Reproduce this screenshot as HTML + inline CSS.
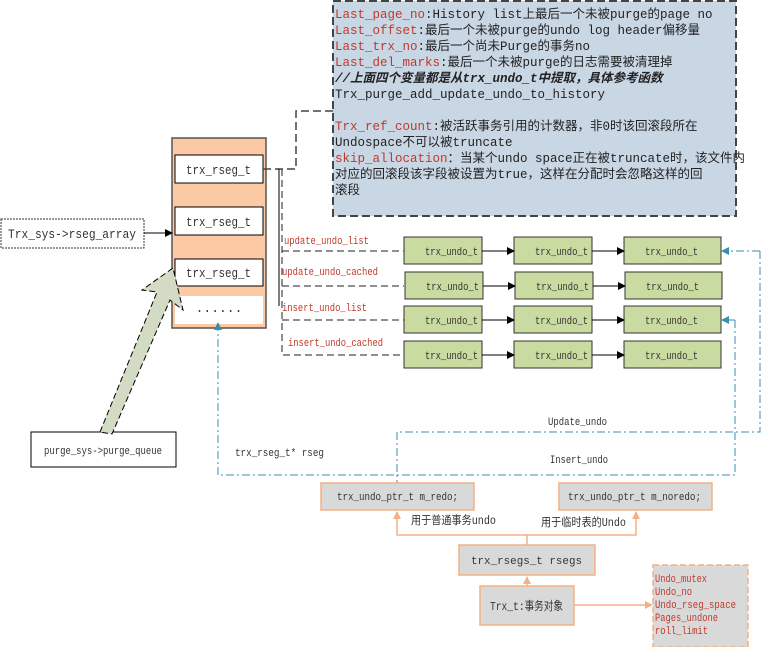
<!DOCTYPE html>
<html><head><meta charset="utf-8"><style>
body{margin:0;background:#fff;}
svg{display:block;font-family:"Liberation Serif","Noto Serif CJK SC","Noto Sans CJK SC",serif;}
.m{font-family:"Liberation Mono","Noto Sans CJK SC",monospace;}
</style></head><body>
<svg width="761" height="647" viewBox="0 0 761 647" xmlns="http://www.w3.org/2000/svg">
<defs>
<marker id="ab" markerWidth="8" markerHeight="8" refX="7" refY="4" orient="auto" markerUnits="userSpaceOnUse"><path d="M0,0 L8,4 L0,8z" fill="#000"/></marker>
<marker id="at" markerWidth="8" markerHeight="8" refX="7" refY="4" orient="auto" markerUnits="userSpaceOnUse"><path d="M0,0 L8,4 L0,8z" fill="#3a8fb0"/></marker>
<marker id="ao" markerWidth="8" markerHeight="8" refX="7" refY="4" orient="auto" markerUnits="userSpaceOnUse"><path d="M0,0 L8,4 L0,8z" fill="#f4b183"/></marker>
</defs>
<!-- top note box -->
<rect x="333" y="1" width="403" height="215" fill="#c9d6e4" stroke="#444" stroke-width="2" stroke-dasharray="8,4"/>
<g class="m" font-size="12.5" fill="#222">
<text x="335" y="18"><tspan fill="#c0392b">Last_page_no</tspan>:History list上最后一个未被purge的page no</text>
<text x="335" y="34"><tspan fill="#c0392b">Last_offset</tspan>:最后一个未被purge的undo log header偏移量</text>
<text x="335" y="50"><tspan fill="#c0392b">Last_trx_no</tspan>:最后一个尚未Purge的事务no</text>
<text x="335" y="66"><tspan fill="#c0392b">Last_del_marks</tspan>:最后一个未被purge的日志需要被清理掉</text>
<text x="335" y="82" font-style="italic" font-weight="bold">//上面四个变量都是从trx_undo_t中提取，具体参考函数</text>
<text x="335" y="98">Trx_purge_add_update_undo_to_history</text>
<text x="335" y="130"><tspan fill="#c0392b">Trx_ref_count</tspan>:被活跃事务引用的计数器，非0时该回滚段所在</text>
<text x="335" y="146">Undospace不可以被truncate</text>
<text x="335" y="162"><tspan fill="#c0392b">skip_allocation</tspan>：当某个undo space正在被truncate时，该文件内</text>
<text x="335" y="178">对应的回滚段该字段被设置为true，这样在分配时会忽略这样的回</text>
<text x="335" y="194">滚段</text>
</g>
<!-- rseg array -->
<rect x="172" y="138" width="94" height="190" fill="#fbc9a4" stroke="#555" stroke-width="1.5"/>
<rect x="175" y="155" width="88" height="28" fill="#fff" stroke="#000"/>
<rect x="175" y="207" width="88" height="28" fill="#fff" stroke="#000"/>
<rect x="175" y="259" width="88" height="27" fill="#fff" stroke="#000"/>
<rect x="175" y="296" width="88" height="28" fill="#fff"/>
<g class="m" font-size="13" fill="#333" lengthAdjust="spacingAndGlyphs">
<text x="186" y="174" textLength="65" lengthAdjust="spacingAndGlyphs">trx_rseg_t</text>
<text x="186" y="226" textLength="65" lengthAdjust="spacingAndGlyphs">trx_rseg_t</text>
<text x="186" y="277" textLength="65" lengthAdjust="spacingAndGlyphs">trx_rseg_t</text>
<text x="219" y="312" text-anchor="middle">......</text>
</g>
<!-- Trx_sys -->
<rect x="1" y="219" width="143" height="29" fill="#fff" stroke="#333" stroke-dasharray="2,1"/>
<text class="m" x="8" y="238" font-size="13" fill="#333" textLength="128" lengthAdjust="spacingAndGlyphs">Trx_sys-&gt;rseg_array</text>
<line x1="144" y1="233" x2="172" y2="233" stroke="#000" marker-end="url(#ab)"/>
<!-- purge -->
<rect x="31" y="432" width="145" height="35" fill="#fff" stroke="#000"/>
<text class="m" x="44" y="454" font-size="11" fill="#333" textLength="118" lengthAdjust="spacingAndGlyphs">purge_sys-&gt;purge_queue</text>
<path d="M100,432 L157,292 L142,290 L173,268 L183,310 L170,300 L112,434 Z" fill="#d4dbc4" stroke="#000" stroke-dasharray="6,3"/>
<!-- connectors from rseg -->
<path d="M263,169 H296 V111 H333" fill="none" stroke="#444" stroke-width="1.5" stroke-dasharray="8,4"/>
<line x1="279" y1="169" x2="279" y2="306" stroke="#000"/>
<g fill="none" stroke="#222" stroke-dasharray="7,4">
<path d="M282,169 V355 H404"/>
<line x1="282" y1="251" x2="404" y2="251"/><line x1="282" y1="286" x2="404" y2="286"/><line x1="282" y1="320" x2="404" y2="320"/>
</g>
<g class="m" font-size="11" fill="#c0392b">
<text x="284" y="244" textLength="85" lengthAdjust="spacingAndGlyphs">update_undo_list</text>
<text x="282" y="275" textLength="96" lengthAdjust="spacingAndGlyphs">update_undo_cached</text>
<text x="282" y="311" textLength="85" lengthAdjust="spacingAndGlyphs">insert_undo_list</text>
<text x="288" y="346" textLength="95" lengthAdjust="spacingAndGlyphs">insert_undo_cached</text>
</g>
<!-- undo rows -->
<g stroke="#333" fill="#c9dba0">
<rect x="404" y="237" width="78" height="27"/><rect x="514" y="237" width="78" height="27"/><rect x="624" y="237" width="97" height="27"/>
<rect x="405" y="272" width="78" height="27"/><rect x="515" y="272" width="78" height="27"/><rect x="625" y="272" width="97" height="27"/>
<rect x="404" y="306" width="78" height="27"/><rect x="514" y="306" width="78" height="27"/><rect x="624" y="306" width="97" height="27"/>
<rect x="404" y="341" width="78" height="27"/><rect x="514" y="341" width="78" height="27"/><rect x="624" y="341" width="97" height="27"/>
</g>
<g class="m" font-size="11" fill="#333">
<text x="425" y="255" textLength="53" lengthAdjust="spacingAndGlyphs">trx_undo_t</text><text x="535" y="255" textLength="53" lengthAdjust="spacingAndGlyphs">trx_undo_t</text><text x="645" y="255" textLength="53" lengthAdjust="spacingAndGlyphs">trx_undo_t</text>
<text x="426" y="290" textLength="53" lengthAdjust="spacingAndGlyphs">trx_undo_t</text><text x="536" y="290" textLength="53" lengthAdjust="spacingAndGlyphs">trx_undo_t</text><text x="646" y="290" textLength="53" lengthAdjust="spacingAndGlyphs">trx_undo_t</text>
<text x="425" y="324" textLength="53" lengthAdjust="spacingAndGlyphs">trx_undo_t</text><text x="535" y="324" textLength="53" lengthAdjust="spacingAndGlyphs">trx_undo_t</text><text x="645" y="324" textLength="53" lengthAdjust="spacingAndGlyphs">trx_undo_t</text>
<text x="425" y="359" textLength="53" lengthAdjust="spacingAndGlyphs">trx_undo_t</text><text x="535" y="359" textLength="53" lengthAdjust="spacingAndGlyphs">trx_undo_t</text><text x="645" y="359" textLength="53" lengthAdjust="spacingAndGlyphs">trx_undo_t</text>
</g>
<g stroke="#000" marker-end="url(#ab)">
<line x1="482" y1="251" x2="514" y2="251"/><line x1="592" y1="251" x2="624" y2="251"/>
<line x1="483" y1="286" x2="515" y2="286"/><line x1="593" y1="286" x2="625" y2="286"/>
<line x1="482" y1="320" x2="514" y2="320"/><line x1="592" y1="320" x2="624" y2="320"/>
<line x1="482" y1="355" x2="514" y2="355"/><line x1="592" y1="355" x2="624" y2="355"/>
</g>
<!-- teal dash-dot -->
<g fill="none" stroke="#3a8fb0" stroke-dasharray="8,3,2,3">
<path d="M760,251 V432 H397 V483"/>
<line x1="760" y1="251" x2="722" y2="251" marker-end="url(#at)"/>
<path d="M735,320 V475 H218 V323" marker-end="url(#at)"/>
<line x1="735" y1="320" x2="722" y2="320" marker-end="url(#at)"/>
</g>
<g class="m" font-size="11" fill="#333">
<text x="548" y="425" textLength="59" lengthAdjust="spacingAndGlyphs">Update_undo</text>
<text x="550" y="463" textLength="58" lengthAdjust="spacingAndGlyphs">Insert_undo</text>
<text x="235" y="456" textLength="89" lengthAdjust="spacingAndGlyphs">trx_rseg_t*  rseg</text>
</g>
<!-- bottom -->
<g fill="#d9d9d9" stroke="#f4b183" stroke-width="1.5">
<rect x="321" y="483" width="153" height="27"/><rect x="559" y="483" width="153" height="27"/>
<rect x="459" y="545" width="136" height="30"/><rect x="480" y="586" width="94" height="39"/>
<rect x="653" y="565" width="95" height="82" stroke-dasharray="6,3"/>
</g>
<g fill="none" stroke="#f4b183" stroke-width="1.5">
<path d="M527,545 V535 H397 V512" marker-end="url(#ao)"/>
<path d="M527,535 H636 V512" marker-end="url(#ao)"/>
<line x1="527" y1="586" x2="527" y2="577" marker-end="url(#ao)"/>
<line x1="574" y1="605" x2="652" y2="605" marker-end="url(#ao)"/>
</g>
<g class="m" font-size="11" fill="#333">
<text x="337" y="500" textLength="121" lengthAdjust="spacingAndGlyphs">trx_undo_ptr_t  m_redo;</text>
<text x="568" y="500" textLength="133" lengthAdjust="spacingAndGlyphs">trx_undo_ptr_t  m_noredo;</text>
<text x="471" y="564" textLength="111" lengthAdjust="spacingAndGlyphs">trx_rsegs_t    rsegs</text>
<text x="490" y="610" font-size="12" textLength="73" lengthAdjust="spacingAndGlyphs">Trx_t:事务对象</text>
<text x="411" y="524" font-size="11.5" textLength="85" lengthAdjust="spacingAndGlyphs">用于普通事务undo</text>
<text x="541" y="526" font-size="11.5" textLength="85" lengthAdjust="spacingAndGlyphs">用于临时表的Undo</text>
</g>
<g class="m" font-size="11" fill="#c0392b">
<text x="655" y="582" textLength="52" lengthAdjust="spacingAndGlyphs">Undo_mutex</text>
<text x="655" y="595" textLength="37" lengthAdjust="spacingAndGlyphs">Undo_no</text>
<text x="655" y="608" textLength="81" lengthAdjust="spacingAndGlyphs">Undo_rseg_space</text>
<text x="655" y="621" textLength="63" lengthAdjust="spacingAndGlyphs">Pages_undone</text>
<text x="655" y="634" textLength="53" lengthAdjust="spacingAndGlyphs">roll_limit</text>
</g>
</svg>
</body></html>
